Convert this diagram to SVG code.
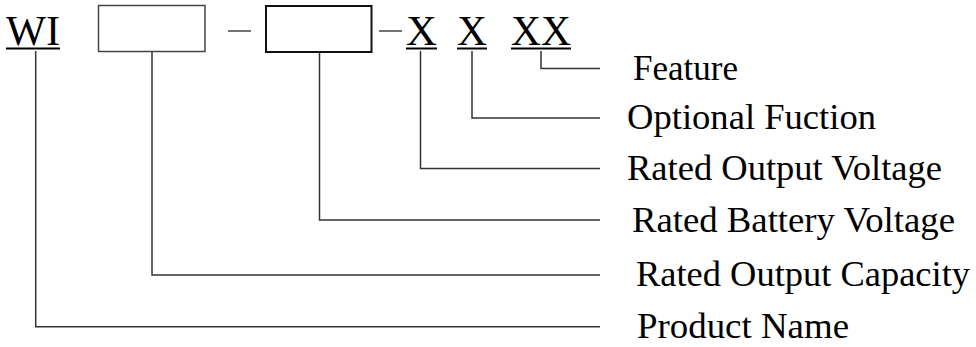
<svg xmlns="http://www.w3.org/2000/svg" width="976" height="347" viewBox="0 0 976 347">
<style>
.code{font-family:"Liberation Serif","Times New Roman",serif;font-size:42px;fill:#000}
.lbl{font-family:"Liberation Serif","Times New Roman",serif;font-size:35px;fill:#000}
.ul{stroke:#000;stroke-width:2}
.cn{fill:none;stroke:#333;stroke-width:1.5}
</style>
<rect width="976" height="347" fill="#fff"/>
<g id="code">
<g id="wi"><text class="code" x="6" y="45" textLength="54" lengthAdjust="spacingAndGlyphs">WI</text><line class="ul" x1="6" y1="48.5" x2="60" y2="48.5"/></g>
<g id="box1"><rect x="98.5" y="5.5" width="106.5" height="46" fill="none" stroke="#444" stroke-width="1.5"/></g>
<g id="dash1"><line x1="228" y1="31" x2="251" y2="31" stroke="#444" stroke-width="1.5"/></g>
<g id="box2"><rect x="266" y="6" width="105.5" height="46" fill="none" stroke="#111" stroke-width="2"/></g>
<g id="dash2"><line x1="379" y1="31" x2="402" y2="31" stroke="#444" stroke-width="1.5"/></g>
<g id="x1"><text class="code" x="406" y="45" textLength="31" lengthAdjust="spacingAndGlyphs">X</text><line class="ul" x1="406" y1="48.5" x2="437" y2="48.5"/></g>
<g id="x2"><text class="code" x="457" y="45" textLength="30" lengthAdjust="spacingAndGlyphs">X</text><line class="ul" x1="457" y1="48.5" x2="487" y2="48.5"/></g>
<g id="xx"><text class="code" x="511" y="45" textLength="60" lengthAdjust="spacingAndGlyphs">XX</text><line class="ul" x1="511" y1="48.5" x2="571" y2="48.5"/></g>
</g>
<g id="connectors">
<polyline class="cn" points="541,51 541,68.5 600,68.5"/>
<polyline class="cn" points="472,51 472,118 600,118"/>
<polyline class="cn" points="420.5,51 420.5,168.5 600,168.5"/>
<polyline class="cn" points="319.5,52 319.5,220 600,220"/>
<polyline class="cn" points="152,52 152,275 600,275"/>
<polyline class="cn" points="35.7,51 35.7,326.7 600,326.7"/>
</g>
<g id="labels">
<g id="feature"><text class="lbl" x="633" y="79.5" textLength="105" lengthAdjust="spacingAndGlyphs">Feature</text></g>
<g id="optional"><text class="lbl" x="627" y="129" textLength="249" lengthAdjust="spacingAndGlyphs">Optional Fuction</text></g>
<g id="rov"><text class="lbl" x="627" y="180" textLength="315" lengthAdjust="spacingAndGlyphs">Rated Output Voltage</text></g>
<g id="rbv"><text class="lbl" x="632" y="231.5" textLength="323" lengthAdjust="spacingAndGlyphs">Rated Battery Voltage</text></g>
<g id="roc"><text class="lbl" x="636" y="286" textLength="334" lengthAdjust="spacingAndGlyphs">Rated Output Capacity</text></g>
<g id="pn"><text class="lbl" x="637" y="338.3" textLength="212" lengthAdjust="spacingAndGlyphs">Product Name</text></g>
</g>
</svg>
